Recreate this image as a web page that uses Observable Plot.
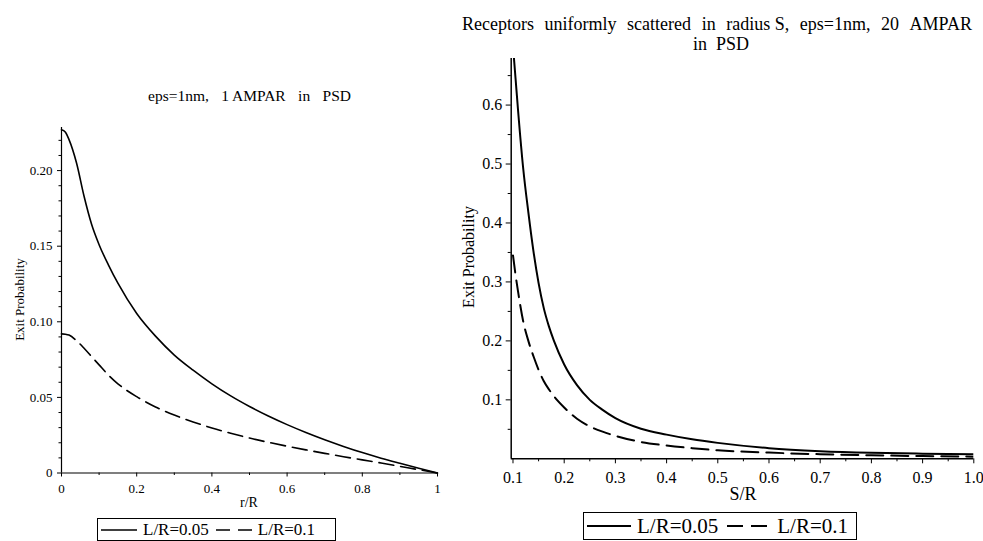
<!DOCTYPE html>
<html>
<head>
<meta charset="utf-8">
<script src="https://cdn.jsdelivr.net/npm/d3@7"></script>
<script src="https://cdn.jsdelivr.net/npm/@observablehq/plot@0.6"></script>
<style>
  html, body { margin: 0; padding: 0; background: #fff; }
  body { width: 983px; height: 541px; position: relative; overflow: hidden; font-family: "Liberation Serif", "DejaVu Serif", serif; color: #000; }
  .abs { position: absolute; white-space: pre; line-height: 1; }
  .spread { position: absolute; line-height: 1; display: flex; justify-content: space-between; white-space: pre; }
  .legend { position: absolute; border: 1px solid #000; display: flex; align-items: center; box-sizing: border-box; background: #fff; }
  .legend svg { display: block; }
</style>
</head>
<body>
<div id="left" class="abs" style="left:0;top:110px;"></div>
<div id="right" class="abs" style="left:470px;top:40px;"></div>

<script>
// ---------- data ----------
const seriesLabels = ["L/R=0.05", "L/R=0.1"];

// Left panel: exit probability vs r/R (eps=1nm, 1 AMPAR in PSD)
const leftTitleWords = ["eps=1nm,", "1 AMPAR", "in", "PSD"];
const leftXLabel = "r/R";
const leftX = [0, 0.01, 0.02, 0.04, 0.06, 0.08, 0.1, 0.125, 0.15, 0.2, 0.25, 0.3, 0.35, 0.4, 0.45, 0.5, 0.55, 0.6, 0.65, 0.7, 0.75, 0.8, 0.85, 0.9, 0.95, 1.0];
const leftSolid = [0.227, 0.2255, 0.2205, 0.205, 0.183, 0.1645, 0.151, 0.1375, 0.1255, 0.1055, 0.0905, 0.078, 0.068, 0.059, 0.051, 0.044, 0.0377, 0.032, 0.0268, 0.022, 0.0176, 0.0135, 0.0098, 0.0064, 0.0031, 0];
const leftDashed = [0.092, 0.0918, 0.0912, 0.0875, 0.0825, 0.077, 0.0715, 0.0647, 0.059, 0.0505, 0.0437, 0.0383, 0.0338, 0.0298, 0.0263, 0.0231, 0.0203, 0.0177, 0.0153, 0.013, 0.0108, 0.0087, 0.0066, 0.0044, 0.0022, 0];
const leftXTicks = [0, 0.2, 0.4, 0.6, 0.8, 1];
const leftXMinor = [0.1, 0.3, 0.5, 0.7, 0.9];
const leftYTicks = [0, 0.05, 0.10, 0.15, 0.20];
const leftYMinor = [0.01, 0.02, 0.03, 0.04, 0.06, 0.07, 0.08, 0.09, 0.11, 0.12, 0.13, 0.14, 0.16, 0.17, 0.18, 0.19, 0.21, 0.22];

// Right panel: exit probability vs S/R (receptors scattered in radius S, 20 AMPAR)
const rightTitleWords = ["Receptors", "uniformly", "scattered", "in", "radius S,", "eps=1nm,", "20", "AMPAR"];
const rightTitle2 = "in  PSD";
const rightXLabel = "S/R";
const rightX = [0.1, 0.105, 0.11, 0.12, 0.13, 0.14, 0.15, 0.16, 0.17, 0.18, 0.2, 0.225, 0.25, 0.275, 0.3, 0.35, 0.4, 0.45, 0.5, 0.6, 0.7, 0.8, 0.9, 1.0];
const rightSolid = [0.70, 0.645, 0.59, 0.492, 0.418, 0.352, 0.298, 0.256, 0.225, 0.200, 0.160, 0.125, 0.100, 0.083, 0.069, 0.051, 0.041, 0.033, 0.027, 0.018, 0.013, 0.0102, 0.0087, 0.0077];
const rightDashed = [0.345, 0.312, 0.283, 0.233, 0.200, 0.174, 0.151, 0.132, 0.118, 0.106, 0.087, 0.068, 0.055, 0.046, 0.039, 0.0285, 0.0225, 0.018, 0.0145, 0.0105, 0.0078, 0.006, 0.0046, 0.0036];
const rightXTicks = [0.1, 0.2, 0.3, 0.4, 0.5, 0.6, 0.7, 0.8, 0.9, 1.0];
const rightXMinor = [0.15, 0.25, 0.35, 0.45, 0.55, 0.65, 0.75, 0.85, 0.95];
const rightYTicks = [0.1, 0.2, 0.3, 0.4, 0.5, 0.6];
const rightYMinor = [0.05, 0.15, 0.25, 0.35, 0.45, 0.55, 0.65];

const yLabel = "Exit Probability";

// ---------- build tables ----------
const leftData = leftX.flatMap((x, i) => [
  {x, y: leftSolid[i], s: seriesLabels[0]},
  {x, y: leftDashed[i], s: seriesLabels[1]}
]);
const rightData = rightX.flatMap((x, i) => [
  {x, y: rightSolid[i], s: seriesLabels[0]},
  {x, y: rightDashed[i], s: seriesLabels[1]}
]);
const blank = () => "";

// ---------- left plot ----------
const leftPlot = Plot.plot({
  width: 460, height: 410,
  marginLeft: 61, marginRight: 23, marginTop: 17, marginBottom: 47.5,
  style: {fontFamily: "Liberation Serif", fontSize: "13px", color: "#000", background: "transparent"},
  x: {domain: [0, 1]},
  y: {domain: [0, 0.2285]},
  marks: [
    Plot.axisX(leftXTicks, {tickSize: 4, tickPadding: 6.5, tickFormat: d => d === 0 ? "0" : d === 1 ? "1" : d.toFixed(1), label: null, stroke: "#000"}),
    Plot.axisX(leftXMinor, {tickSize: 2.5, tickFormat: blank, label: null, stroke: "#000"}),
    Plot.axisY(leftYTicks, {tickSize: 4, tickPadding: 5, tickFormat: d => d === 0 ? "0" : d.toFixed(2), label: null, stroke: "#000"}),
    Plot.axisY(leftYMinor, {tickSize: 2.5, tickFormat: blank, label: null, stroke: "#000"}),
    Plot.ruleX([0], {stroke: "#000", strokeWidth: 1.2}),
    Plot.ruleY([0], {stroke: "#000", strokeWidth: 1.2}),
    Plot.line(leftData.filter(d => d.s === seriesLabels[0]), {x: "x", y: "y", curve: "monotone-x", stroke: "#000", strokeWidth: 1.6}),
    Plot.line(leftData.filter(d => d.s === seriesLabels[1]), {x: "x", y: "y", curve: "monotone-x", stroke: "#000", strokeWidth: 1.6, strokeDasharray: "15,7"})
  ]
});
document.getElementById("left").appendChild(leftPlot);

// ---------- right plot ----------
const rightPlot = Plot.plot({
  width: 513, height: 460,
  marginLeft: 40.7, marginRight: 9.7, marginTop: 18, marginBottom: 41.7,
  style: {fontFamily: "Liberation Serif", fontSize: "16px", color: "#000", background: "transparent", overflow: "visible"},
  x: {domain: [0.0965, 1.0]},
  y: {domain: [0, 0.679]},
  marks: [
    Plot.axisX(rightXTicks, {tickSize: 5, tickPadding: 8, tickFormat: d => d.toFixed(1), label: null, stroke: "#000"}),
    Plot.axisX(rightXMinor, {tickSize: 3, tickFormat: blank, label: null, stroke: "#000"}),
    Plot.axisY(rightYTicks, {tickSize: 5, tickPadding: 4, tickFormat: d => d.toFixed(1), label: null, stroke: "#000"}),
    Plot.axisY(rightYMinor, {tickSize: 3, tickFormat: blank, label: null, stroke: "#000"}),
    Plot.ruleX([0.0965], {stroke: "#000", strokeWidth: 1.5}),
    Plot.ruleY([0], {stroke: "#000", strokeWidth: 1.5}),
    Plot.line(rightData.filter(d => d.s === seriesLabels[0]), {x: "x", y: "y", curve: "monotone-x", stroke: "#000", strokeWidth: 2, clip: true}),
    Plot.line(rightData.filter(d => d.s === seriesLabels[1]), {x: "x", y: "y", curve: "monotone-x", stroke: "#000", strokeWidth: 2, strokeDasharray: "17,8", clip: true})
  ]
});
document.getElementById("right").appendChild(rightPlot);

// ---------- text & legends ----------
function addText(txt, css, cls) {
  const d = document.createElement("div");
  d.className = cls || "abs";
  d.textContent = txt;
  Object.assign(d.style, css);
  document.body.appendChild(d);
  return d;
}
function addSpread(words, css) {
  const d = document.createElement("div");
  d.className = "spread";
  words.forEach(w => { const s = document.createElement("span"); s.textContent = w; d.appendChild(s); });
  Object.assign(d.style, css);
  document.body.appendChild(d);
  return d;
}
function centerAt(el, cx, cy) {
  const w = el.offsetWidth, h = el.offsetHeight;
  el.style.left = (cx - w / 2) + "px";
  el.style.top = (cy - h / 2) + "px";
}
const lt = addSpread(leftTitleWords, {fontSize: "15.5px", width: "203px"}); centerAt(lt, 249.5, 96);
const lx = addText(leftXLabel, {fontSize: "14px"}); centerAt(lx, 249, 503);
const ly = addText(yLabel, {fontSize: "13px"}); centerAt(ly, 19, 299);
ly.style.transform = "rotate(-90deg)"; ly.style.transformOrigin = "50% 50%";

const rt1 = addSpread(rightTitleWords, {fontSize: "18px", width: "510px"}); centerAt(rt1, 717, 24);
const rt2 = addText(rightTitle2, {fontSize: "18px"}); centerAt(rt2, 721, 44);
const rx = addText(rightXLabel, {fontSize: "18px"}); centerAt(rx, 743, 494);
const ry = addText(yLabel, {fontSize: "16px"}); centerAt(ry, 469, 257);
ry.style.transform = "rotate(-90deg)"; ry.style.transformOrigin = "50% 50%";

function legend(x, y, w, h, fs, sampleW, dash, sw, gap) {
  const box = document.createElement("div");
  box.className = "legend";
  Object.assign(box.style, {left: x + "px", top: y + "px", width: w + "px", height: h + "px", fontSize: fs + "px", paddingLeft: "3px"});
  seriesLabels.forEach((lab, i) => {
    const ns = "http://www.w3.org/2000/svg";
    const s = document.createElementNS(ns, "svg");
    s.setAttribute("width", sampleW); s.setAttribute("height", 10);
    const l = document.createElementNS(ns, "line");
    l.setAttribute("x1", 0); l.setAttribute("x2", sampleW); l.setAttribute("y1", 5); l.setAttribute("y2", 5);
    l.setAttribute("stroke", "#000"); l.setAttribute("stroke-width", sw);
    if (i === 1) l.setAttribute("stroke-dasharray", dash);
    s.appendChild(l);
    s.style.marginLeft = i === 0 ? "0px" : gap + "px";
    box.appendChild(s);
    const t = document.createElement("span");
    t.textContent = lab;
    t.style.marginLeft = "6px";
    t.style.whiteSpace = "pre";
    box.appendChild(t);
  });
  document.body.appendChild(box);
}
legend(97, 518, 239, 23, 17, 36, "14,8", 1.4, 7);
legend(583, 512, 274, 28, 21, 44, "16,8", 2, 9);
</script>
</body>
</html>
